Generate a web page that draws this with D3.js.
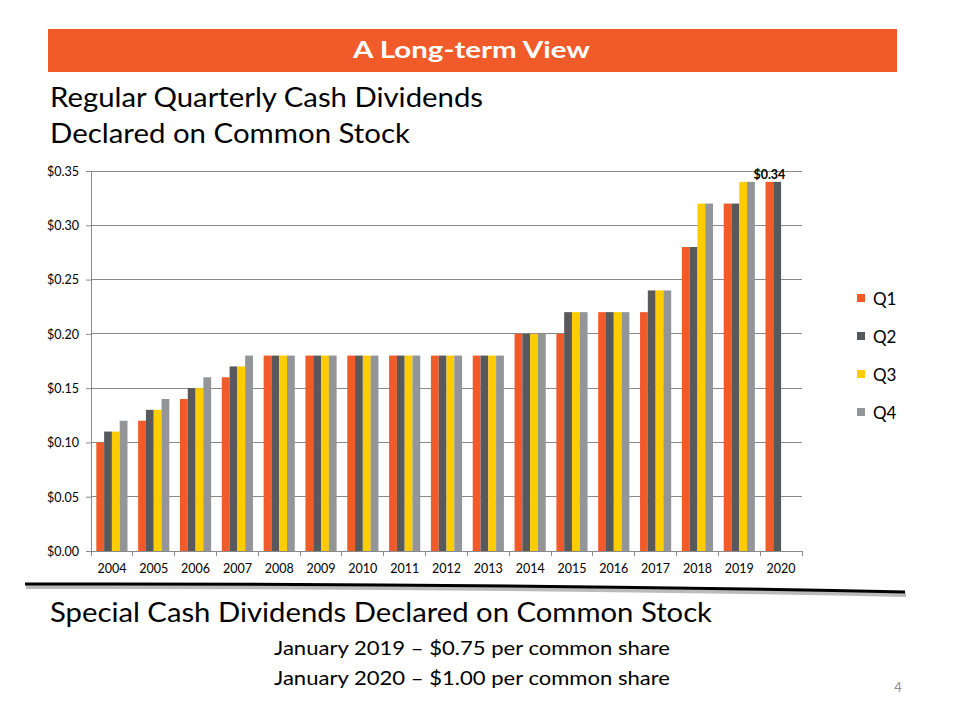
<!DOCTYPE html>
<html><head><meta charset="utf-8">
<script src="https://cdn.jsdelivr.net/npm/d3@7"></script>
<style>body{margin:0;background:#fff;}svg{display:block;font-family:Lato,"Open Sans",sans-serif;}</style>
</head><body>
<svg id="c" width="960" height="720"></svg>
<script>
const years = ["2004","2005","2006","2007","2008","2009","2010","2011","2012","2013","2014","2015","2016","2017","2018","2019","2020"];
const seriesNames = ["Q1","Q2","Q3","Q4"];
const q1 = [0.10,0.12,0.14,0.16,0.18,0.18,0.18,0.18,0.18,0.18,0.20,0.20,0.22,0.22,0.28,0.32,0.34];
const q2 = [0.11,0.13,0.15,0.17,0.18,0.18,0.18,0.18,0.18,0.18,0.20,0.22,0.22,0.24,0.28,0.32,0.34];
const q3 = [0.11,0.13,0.15,0.17,0.18,0.18,0.18,0.18,0.18,0.18,0.20,0.22,0.22,0.24,0.32,0.34,null];
const q4 = [0.12,0.14,0.16,0.18,0.18,0.18,0.18,0.18,0.18,0.18,0.20,0.22,0.22,0.24,0.32,0.34,null];
const colors = ["#F15A29","#58595B","#FFCC00","#939598"];
const yTicks = [0,0.05,0.10,0.15,0.20,0.25,0.30,0.35];
const dataLabel = {year:"2020", series:0, text:"$0.34"};

const svg = d3.select("#c");
const FONT = "Lato,'Open Sans',sans-serif";
// Title bar
svg.append("rect").attr("x",48).attr("y",29).attr("width",849).attr("height",43).attr("fill","#F15A29");
svg.append("text").attr("x",353).attr("y",58).attr("fill","#fff")
  .attr("font-size",22).attr("font-weight","bold").attr("textLength",237).attr("lengthAdjust","spacingAndGlyphs").text("A Long-term View");
svg.append("text").attr("x",50).attr("y",107).attr("font-size",27).attr("fill","#000")
  .attr("textLength",433).attr("lengthAdjust","spacingAndGlyphs").text("Regular Quarterly Cash Dividends");
svg.append("text").attr("x",50).attr("y",143).attr("font-size",27).attr("fill","#000")
  .attr("textLength",360).attr("lengthAdjust","spacingAndGlyphs").text("Declared on Common Stock");

const series = [q1,q2,q3,q4];
const x0 = d3.scaleBand().domain(years).range([91,802]).paddingInner(0).paddingOuter(0);
const groupW = x0.bandwidth()*0.745;
const x1 = d3.scaleBand().domain(d3.range(4)).range([0,groupW]);
const y = d3.scaleLinear().domain([0,0.35]).range([551,171]);

// gridlines
svg.append("g").selectAll("line").data(yTicks.filter(d=>d>0)).join("line")
  .attr("x1",91).attr("x2",802).attr("y1",d=>y(d)).attr("y2",d=>y(d))
  .attr("stroke","#898989").attr("stroke-width",1).attr("shape-rendering","crispEdges");

// bars
const g = svg.append("g");
series.forEach((s,si)=>{
  g.append("g").selectAll("rect").data(years.map((yr,i)=>({yr,v:s[i]})).filter(d=>d.v!=null)).join("rect")
    .attr("x",d=>x0(d.yr)+(x0.bandwidth()-groupW)/2+x1(si))
    .attr("y",d=>y(d.v)).attr("width",x1.bandwidth()).attr("height",d=>y(0)-y(d.v))
    .attr("fill",colors[si]);
});

// axes
const yAxis = d3.axisLeft(y).tickValues(yTicks).tickFormat(d=>"$"+d.toFixed(2)).tickSizeOuter(0).tickSize(5);
const ya = svg.append("g").attr("transform","translate(91,0)").call(yAxis);
ya.attr("font-size",12.5).attr("font-family",FONT);
ya.select(".domain").attr("stroke","#898989");
ya.selectAll(".tick line").attr("stroke","#898989");
ya.selectAll("text").attr("fill","#000").attr("dx",-4).attr("dy","0.35em");

const xAxis = d3.axisBottom(x0).tickSize(0).tickSizeOuter(0);
const xa = svg.append("g").attr("transform","translate(0,551)").call(xAxis);
xa.attr("font-size",12.5).attr("font-family",FONT);
xa.select(".domain").attr("stroke","#898989");
xa.selectAll("text").attr("fill","#000").attr("y",0).attr("dy",22);
svg.append("g").selectAll("line").data(years.concat(["end"])).join("line")
  .attr("x1",(d,i)=>x0.range()[0]+i*x0.step()).attr("x2",(d,i)=>x0.range()[0]+i*x0.step())
  .attr("y1",551).attr("y2",556).attr("stroke","#898989").attr("shape-rendering","crispEdges");

// data label
const li = years.indexOf(dataLabel.year);
svg.append("text").attr("x",x0(dataLabel.year)+(x0.bandwidth()-groupW)/2+x1(dataLabel.series)+x1.bandwidth()/2)
  .attr("y",y(series[dataLabel.series][li])-3).attr("text-anchor","middle").attr("font-size",12.5).attr("font-weight","bold")
  .text(dataLabel.text);

// legend
const leg = svg.append("g").selectAll("g").data(seriesNames).join("g").attr("transform",(d,i)=>`translate(857,${294+i*38})`);
leg.append("rect").attr("width",8).attr("height",8).attr("fill",(d,i)=>colors[i]);
leg.append("text").attr("x",16).attr("y",11).attr("font-size",17).attr("fill","#000").text(d=>d);

// separator line
svg.append("path").attr("d","M25,585 Q465,584 905,593").attr("fill","none").attr("stroke","#bbb").attr("stroke-width",4).attr("transform","translate(1,2)");
svg.append("path").attr("d","M25,584 Q465,583 905,592").attr("fill","none").attr("stroke","#000").attr("stroke-width",3);

svg.append("text").attr("x",50).attr("y",622).attr("font-size",27).attr("fill","#000")
  .attr("textLength",662).attr("lengthAdjust","spacingAndGlyphs").text("Special Cash Dividends Declared on Common Stock");
svg.append("text").attr("x",274).attr("y",655).attr("font-size",20).attr("fill","#000")
  .attr("textLength",396).attr("lengthAdjust","spacingAndGlyphs").text("January 2019 – $0.75 per common share");
svg.append("text").attr("x",274).attr("y",685).attr("font-size",20).attr("fill","#000")
  .attr("textLength",396).attr("lengthAdjust","spacingAndGlyphs").text("January 2020 – $1.00 per common share");
svg.append("text").attr("x",898).attr("y",692).attr("font-size",13).attr("fill","#8c8c8c").attr("text-anchor","middle").text("4");
</script>
</body></html>
